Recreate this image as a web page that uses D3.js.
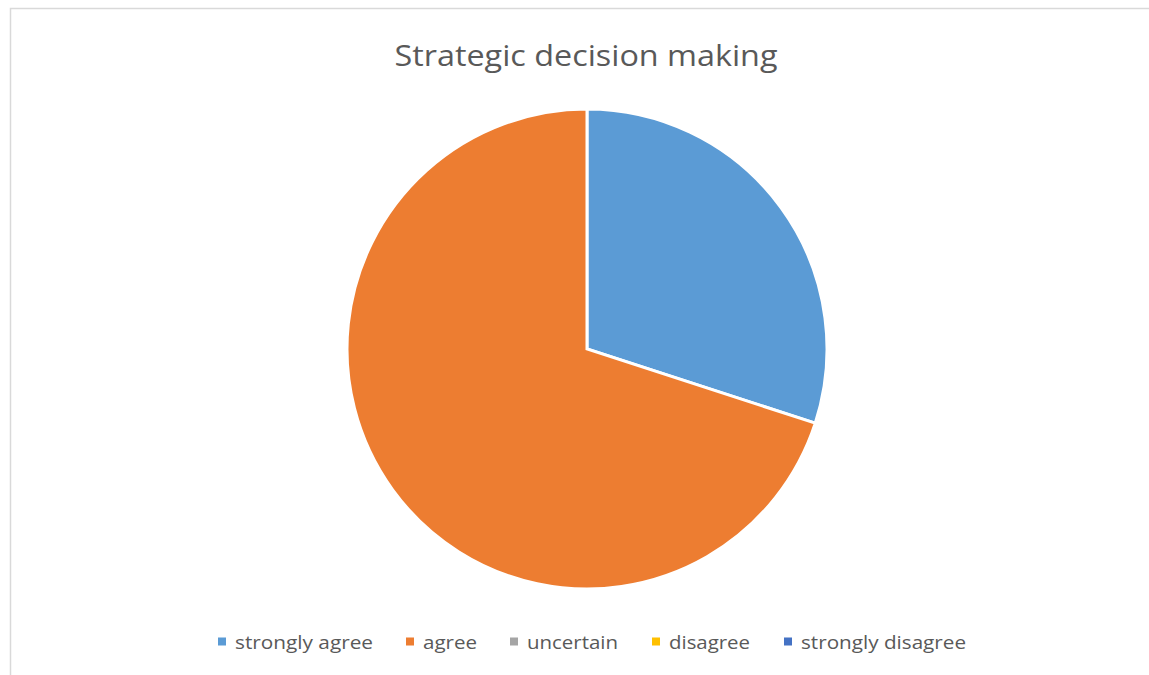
<!DOCTYPE html>
<html><head><meta charset="utf-8">
<script src="https://cdn.jsdelivr.net/npm/d3@7"></script>
<style>body{margin:0;background:#fff;}svg{display:block;}</style>
</head><body>
<script>
const categories = ["strongly agree","agree","uncertain","disagree","strongly disagree"];
const values = [30,70,0,0,0];
const colors = ["#5B9BD5","#ED7D31","#A5A5A5","#FFC000","#4472C4"];
const title = "Strategic decision making";

const W=1149,H=675;
const svg=d3.select("body").append("svg").attr("width",W).attr("height",H);
svg.append("rect").attr("x",10.5).attr("y",8.5).attr("width",W+10).attr("height",H+10)
  .attr("fill","#fff").attr("stroke","#d9d9d9").attr("stroke-width",1.5);

const font="'Open Sans', 'Noto Sans', sans-serif";
const t=svg.append("text").attr("x",586).attr("y",66).attr("text-anchor","middle")
  .attr("font-family",font).attr("font-size",30).attr("fill","#595959").text(title);
t.attr("textLength",383).attr("lengthAdjust","spacingAndGlyphs");

const cx=587,cy=349,r=240;
const pie=d3.pie().sort(null).value(d=>d)(values);
const arc=d3.arc().innerRadius(0).outerRadius(r);
svg.append("g").attr("transform",`translate(${cx},${cy})`)
  .selectAll("path").data(pie.filter(d=>d.value>0)).join("path")
  .attr("d",arc).attr("fill",(d)=>colors[d.index]).attr("stroke","#fff").attr("stroke-width",3).attr("stroke-linejoin","miter");

// legend
const squareX=[218,406,510,652,784];
const textX=[235,423,527,669,801];
const textW=[138,54,91,81,165];
const lg=svg.append("g");
categories.forEach((c,i)=>{
  lg.append("rect").attr("x",squareX[i]).attr("y",637.5).attr("width",8).attr("height",8).attr("fill",colors[i]);
  lg.append("text").attr("x",textX[i]).attr("y",649).attr("font-family",font).attr("font-size",19)
    .attr("fill","#595959").attr("textLength",textW[i]).attr("lengthAdjust","spacingAndGlyphs").text(c);
});
</script>
</body></html>
